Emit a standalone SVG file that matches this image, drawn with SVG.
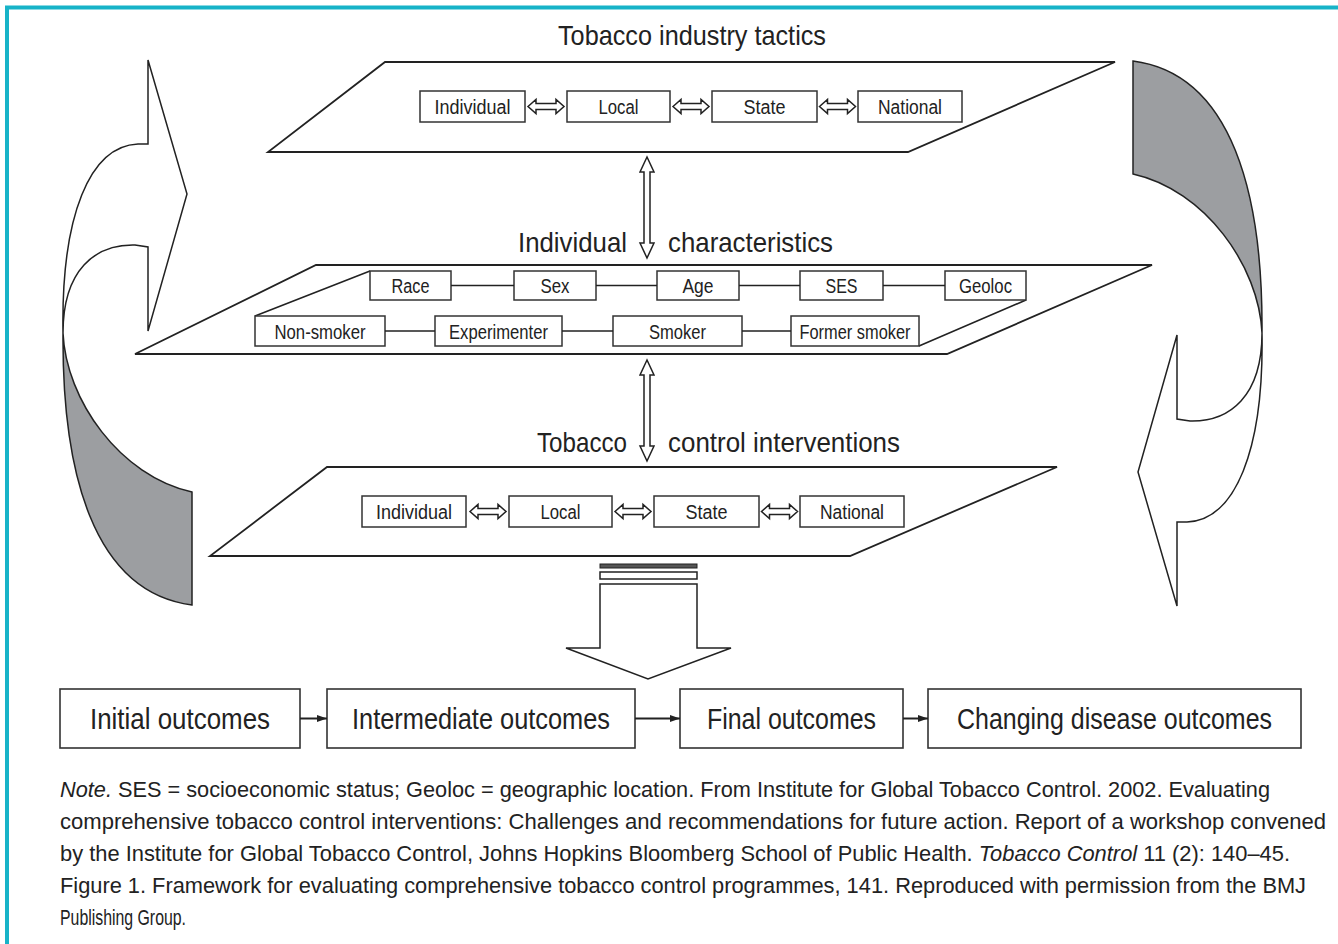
<svg xmlns="http://www.w3.org/2000/svg" width="1338" height="944" viewBox="0 0 1338 944">
<defs>
<style>
.ln{fill:none;stroke:#222;stroke-width:1.6}
.pg{fill:#fff;stroke:#222;stroke-width:1.8}
.bx{fill:#fff;stroke:#333;stroke-width:1.5}
.ob{fill:#fff;stroke:#333;stroke-width:1.6}
.ar{fill:#fff;stroke:#222;stroke-width:1.5}
.gr{fill:#9c9ea1;stroke:#222;stroke-width:1.5}
.t{font-family:"Liberation Sans",Arial,sans-serif;fill:#222}
.tt{font-size:28px}
.bl{font-size:20px;text-anchor:middle}
.ol{font-size:30px;text-anchor:middle}
.nt{font-size:22px}
</style>
<path id="hda" d="M-18,0 L-10,-7 L-10,-3 L10,-3 L10,-7 L18,0 L10,7 L10,3 L-10,3 L-10,7 Z" class="ar"/>
<path id="vda" d="M0,0 L-7,15 L-3,15 L-3,86 L-7,86 L0,101 L7,86 L3,86 L3,15 L7,15 Z" class="ar"/>
<marker id="ah" viewBox="0 0 10 10" refX="10" refY="5" markerWidth="10" markerHeight="10" markerUnits="userSpaceOnUse" orient="auto"><path d="M0,1.5 L10,5 L0,8.5 Z" fill="#222"/></marker>
<path id="curl" d="M63,333 C61,215 90,146 138,144 L148,144 L148,60 L187,194 L148,331 L148,247 L135,245 C95,244 63,270 63,333 Z"/>
<path id="curlg" d="M63,333 C66,400 120,476 192,492 L192,605 C92,592 62,470 63,333 Z"/>
</defs>
<rect width="1338" height="944" fill="#fff"/>
<g id="frame">
<line x1="5" y1="7.5" x2="1338" y2="7.5" stroke="#17b3c8" stroke-width="4"/>
<line x1="7" y1="6" x2="7" y2="944" stroke="#17b3c8" stroke-width="4"/>
</g>
<g id="curl-left">
<use href="#curl" class="ar"/>
<use href="#curlg" class="gr"/>
</g>
<g id="curl-right" transform="rotate(180 662.5 333)">
<use href="#curl" class="ar"/>
<use href="#curlg" class="gr"/>
</g>
<g id="industry">
<text class="t tt" x="692" y="45" text-anchor="middle" textLength="268" lengthAdjust="spacingAndGlyphs">Tobacco industry tactics</text>
<path class="pg" d="M385,62 L1115,62 L908,152 L268,152 Z"/>
<g id="ind-individual"><rect class="bx" x="420" y="91" width="105" height="31"/><text class="t bl" x="472.5" y="113.5" textLength="76" lengthAdjust="spacingAndGlyphs">Individual</text></g>
<g id="ind-local"><rect class="bx" x="567" y="91" width="103" height="31"/><text class="t bl" x="618.5" y="113.5" textLength="40" lengthAdjust="spacingAndGlyphs">Local</text></g>
<g id="ind-state"><rect class="bx" x="712" y="91" width="105" height="31"/><text class="t bl" x="764.5" y="113.5" textLength="42" lengthAdjust="spacingAndGlyphs">State</text></g>
<g id="ind-national"><rect class="bx" x="858" y="91" width="104" height="31"/><text class="t bl" x="910" y="113.5" textLength="64" lengthAdjust="spacingAndGlyphs">National</text></g>
</g>
<g id="characteristics">
<text class="t tt" x="518" y="252" textLength="109" lengthAdjust="spacingAndGlyphs">Individual</text>
<text class="t tt" x="668" y="252" textLength="165" lengthAdjust="spacingAndGlyphs">characteristics</text>
<path class="pg" d="M316,265 L1152,265 L947,354 L135,354 Z"/>
<path class="ln" d="M370,271 L255,316 M1026,300 L919,346"/>
<g id="race"><rect class="bx" x="370" y="271" width="81" height="29"/><text class="t bl" x="410.5" y="292.5" textLength="38" lengthAdjust="spacingAndGlyphs">Race</text></g>
<g id="sex"><rect class="bx" x="514" y="271" width="82" height="29"/><text class="t bl" x="555" y="292.5" textLength="29" lengthAdjust="spacingAndGlyphs">Sex</text></g>
<g id="age"><rect class="bx" x="657" y="271" width="82" height="29"/><text class="t bl" x="698" y="292.5" textLength="31" lengthAdjust="spacingAndGlyphs">Age</text></g>
<g id="ses"><rect class="bx" x="800" y="271" width="83" height="29"/><text class="t bl" x="841.5" y="292.5" textLength="32" lengthAdjust="spacingAndGlyphs">SES</text></g>
<g id="geoloc"><rect class="bx" x="945" y="271" width="81" height="29"/><text class="t bl" x="985.5" y="292.5" textLength="53" lengthAdjust="spacingAndGlyphs">Geoloc</text></g>
<g id="nonsmoker"><rect class="bx" x="255" y="316" width="130" height="30"/><text class="t bl" x="320" y="338.5" textLength="91" lengthAdjust="spacingAndGlyphs">Non-smoker</text></g>
<g id="experimenter"><rect class="bx" x="435" y="316" width="127" height="30"/><text class="t bl" x="498.5" y="338.5" textLength="99" lengthAdjust="spacingAndGlyphs">Experimenter</text></g>
<g id="smoker"><rect class="bx" x="613" y="316" width="129" height="30"/><text class="t bl" x="677.5" y="338.5" textLength="57" lengthAdjust="spacingAndGlyphs">Smoker</text></g>
<g id="formersmoker"><rect class="bx" x="791" y="316" width="128" height="30"/><text class="t bl" x="855" y="338.5" textLength="111" lengthAdjust="spacingAndGlyphs">Former smoker</text></g>
</g>
<g id="interventions">
<text class="t tt" x="537" y="452" textLength="90" lengthAdjust="spacingAndGlyphs">Tobacco</text>
<text class="t tt" x="668" y="452" textLength="232" lengthAdjust="spacingAndGlyphs">control interventions</text>
<path class="pg" d="M327,467 L1057,467 L850,556 L210,556 Z"/>
<g id="int-individual"><rect class="bx" x="362" y="496" width="104" height="31"/><text class="t bl" x="414" y="518.5" textLength="76" lengthAdjust="spacingAndGlyphs">Individual</text></g>
<g id="int-local"><rect class="bx" x="509" y="496" width="103" height="31"/><text class="t bl" x="560.5" y="518.5" textLength="40" lengthAdjust="spacingAndGlyphs">Local</text></g>
<g id="int-state"><rect class="bx" x="654" y="496" width="105" height="31"/><text class="t bl" x="706.5" y="518.5" textLength="42" lengthAdjust="spacingAndGlyphs">State</text></g>
<g id="int-national"><rect class="bx" x="800" y="496" width="104" height="31"/><text class="t bl" x="852" y="518.5" textLength="64" lengthAdjust="spacingAndGlyphs">National</text></g>
</g>
<g id="initial"><rect class="ob" x="60" y="689" width="240" height="59"/><text class="t ol" x="180" y="729" textLength="180" lengthAdjust="spacingAndGlyphs">Initial outcomes</text></g>
<g id="intermediate"><rect class="ob" x="327" y="689" width="308" height="59"/><text class="t ol" x="481" y="729" textLength="258" lengthAdjust="spacingAndGlyphs">Intermediate outcomes</text></g>
<g id="final"><rect class="ob" x="680" y="689" width="223" height="59"/><text class="t ol" x="791.5" y="729" textLength="169" lengthAdjust="spacingAndGlyphs">Final outcomes</text></g>
<g id="changing"><rect class="ob" x="928" y="689" width="373" height="59"/><text class="t ol" x="1114.5" y="729" textLength="315" lengthAdjust="spacingAndGlyphs">Changing disease outcomes</text></g>
<g id="connectors">
<use href="#hda" x="546" y="106.5"/>
<use href="#hda" x="691" y="106.5"/>
<use href="#hda" x="837.5" y="106.5"/>
<use href="#hda" x="488" y="511.5"/>
<use href="#hda" x="633" y="511.5"/>
<use href="#hda" x="779.5" y="511.5"/>
<use href="#vda" x="647" y="157"/>
<use href="#vda" x="647" y="360"/>
<path class="ln" d="M451,285.5 H514 M596,285.5 H657 M739,285.5 H800 M883,285.5 H945 M385,331 H435 M562,331 H613 M742,331 H791"/>
<rect x="600" y="564" width="97" height="4" fill="#555" stroke="#222" stroke-width="1"/>
<rect x="600" y="572" width="97" height="7" fill="#fff" stroke="#222" stroke-width="1.5"/>
<path class="ar" d="M600,584 L697,584 L697,648 L731,648 L648,679 L566,648 L600,648 Z"/>
<g stroke="#222" stroke-width="2" marker-end="url(#ah)">
<line x1="300" y1="718.5" x2="327" y2="718.5"/>
<line x1="635" y1="718.5" x2="680" y2="718.5"/>
<line x1="903" y1="718.5" x2="928" y2="718.5"/>
</g>
</g>
<g id="note" class="t nt">
<text x="60" y="797" textLength="1210" lengthAdjust="spacingAndGlyphs"><tspan font-style="italic">Note.</tspan> SES = socioeconomic status; Geoloc = geographic location. From Institute for Global Tobacco Control. 2002. Evaluating</text>
<text x="60" y="829" textLength="1266" lengthAdjust="spacingAndGlyphs">comprehensive tobacco control interventions: Challenges and recommendations for future action. Report of a workshop convened</text>
<text x="60" y="861" textLength="1230" lengthAdjust="spacingAndGlyphs">by the Institute for Global Tobacco Control, Johns Hopkins Bloomberg School of Public Health. <tspan font-style="italic">Tobacco Control</tspan> 11 (2): 140–45.</text>
<text x="60" y="893" textLength="1246" lengthAdjust="spacingAndGlyphs">Figure 1. Framework for evaluating comprehensive tobacco control programmes, 141. Reproduced with permission from the BMJ</text>
<text x="60" y="925" textLength="126" lengthAdjust="spacingAndGlyphs">Publishing Group.</text>
</g>
</svg>
